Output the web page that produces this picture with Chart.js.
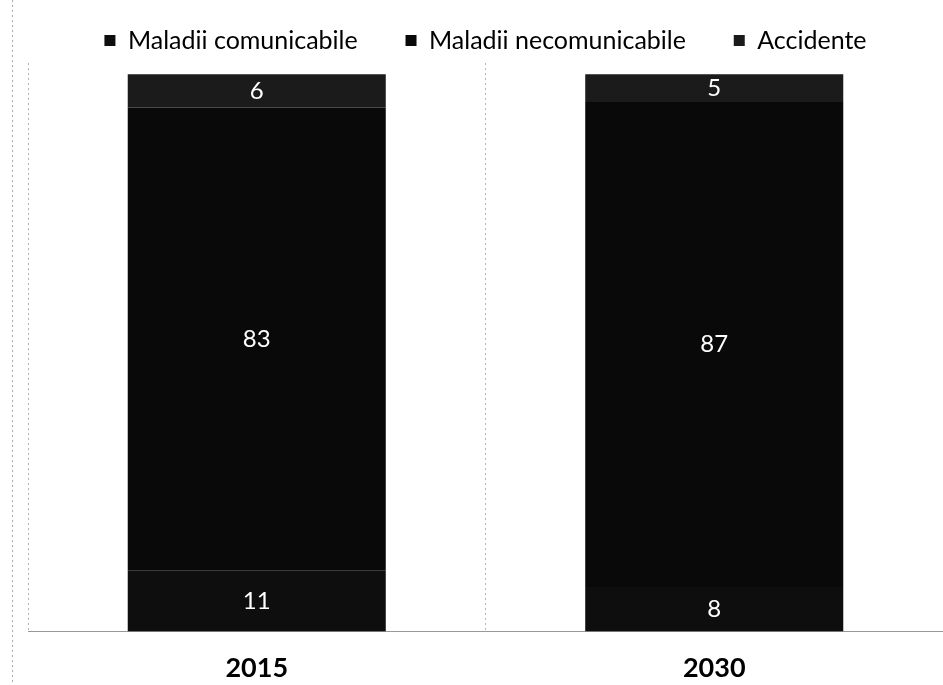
<!DOCTYPE html>
<html>
<head>
<meta charset="utf-8">
<script src="https://cdn.jsdelivr.net/npm/chart.js@4.4.0/dist/chart.umd.min.js"></script>
<style>
    body { margin: 0; background: #fff; }
    #wrap { width: 943px; height: 685px; }
</style>
</head>
<body>
<div id="wrap"><canvas id="bar_chart" width="943" height="685"></canvas></div>
<script>
// date (procente)
var ani = ['2015', '2030'];
var comunicabile = [11, 8];
var necomunicabile = [83, 87];
var accidente = [6, 5];
var serii = ['Maladii comunicabile', 'Maladii necomunicabile', 'Accidente'];

var fontText = 'Lato, "Open Sans", "Liberation Sans", sans-serif';

// etichete albe in mijlocul fiecarui segment
var eticheteSegmente = {
    id: 'eticheteSegmente',
    beforeDraw: function (chart) {
        var ctx = chart.ctx;
        ctx.save();
        ctx.strokeStyle = '#aaa';
        ctx.setLineDash([2, 3]);
        ctx.beginPath();
        ctx.moveTo(12.5, 0);
        ctx.lineTo(12.5, chart.height);
        ctx.stroke();
        ctx.restore();
    },
    afterDatasetsDraw: function (chart) {
        var ctx = chart.ctx;
        ctx.save();
        ctx.fillStyle = '#fff';
        ctx.font = '24px ' + fontText;
        ctx.textAlign = 'center';
        ctx.textBaseline = 'middle';
        chart.data.datasets.forEach(function (ds, i) {
            var meta = chart.getDatasetMeta(i);
            meta.data.forEach(function (bar, j) {
                var y = (bar.y + bar.base) / 2;
                ctx.fillText(ds.data[j], bar.x, y);
            });
        });
        ctx.restore();
    }
};

var config = {
    type: 'bar',
    data: {
        labels: ani,
        datasets: [
            {
                label: serii[0],
                data: comunicabile,
                backgroundColor: '#0e0e0e'
            },
            {
                label: serii[1],
                data: necomunicabile,
                backgroundColor: '#090909'
            },
            {
                label: serii[2],
                data: accidente,
                backgroundColor: '#1b1b1b'
            }
        ]
    },
    options: {
        responsive: false,
        animation: false,
        categoryPercentage: 1,
        barPercentage: 0.564,
        layout: {
            padding: { top: -7, left: 28, right: 0, bottom: -19 }
        },
        plugins: {
            legend: {
                position: 'top',
                labels: {
                    boxWidth: 11,
                    boxHeight: 11,
                    padding: 35,
                    color: '#000',
                    font: { family: fontText, size: 25 },
                    generateLabels: function (chart) {
                        var items = Chart.defaults.plugins.legend.labels.generateLabels(chart);
                        items.forEach(function (it, i) {
                            if (i < items.length - 1) it.text = it.text + '  ';
                        });
                        return items;
                    }
                }
            },
            tooltip: { enabled: false }
        },
        scales: {
            x: {
                stacked: true,
                grid: {
                    display: true,
                    offset: true,
                    drawTicks: false,
                    color: '#b5b5b5'
                },
                border: { display: true, color: '#999', dash: [2, 3] },
                ticks: {
                    padding: 20,
                    color: '#000',
                    font: { family: fontText, size: 27, weight: 'bold' }
                }
            },
            y: {
                stacked: true,
                display: false,
                min: 0,
                max: 102
            }
        }
    },
    plugins: [eticheteSegmente]
};

new Chart(document.getElementById('bar_chart').getContext('2d'), config);
</script>
</body>
</html>
